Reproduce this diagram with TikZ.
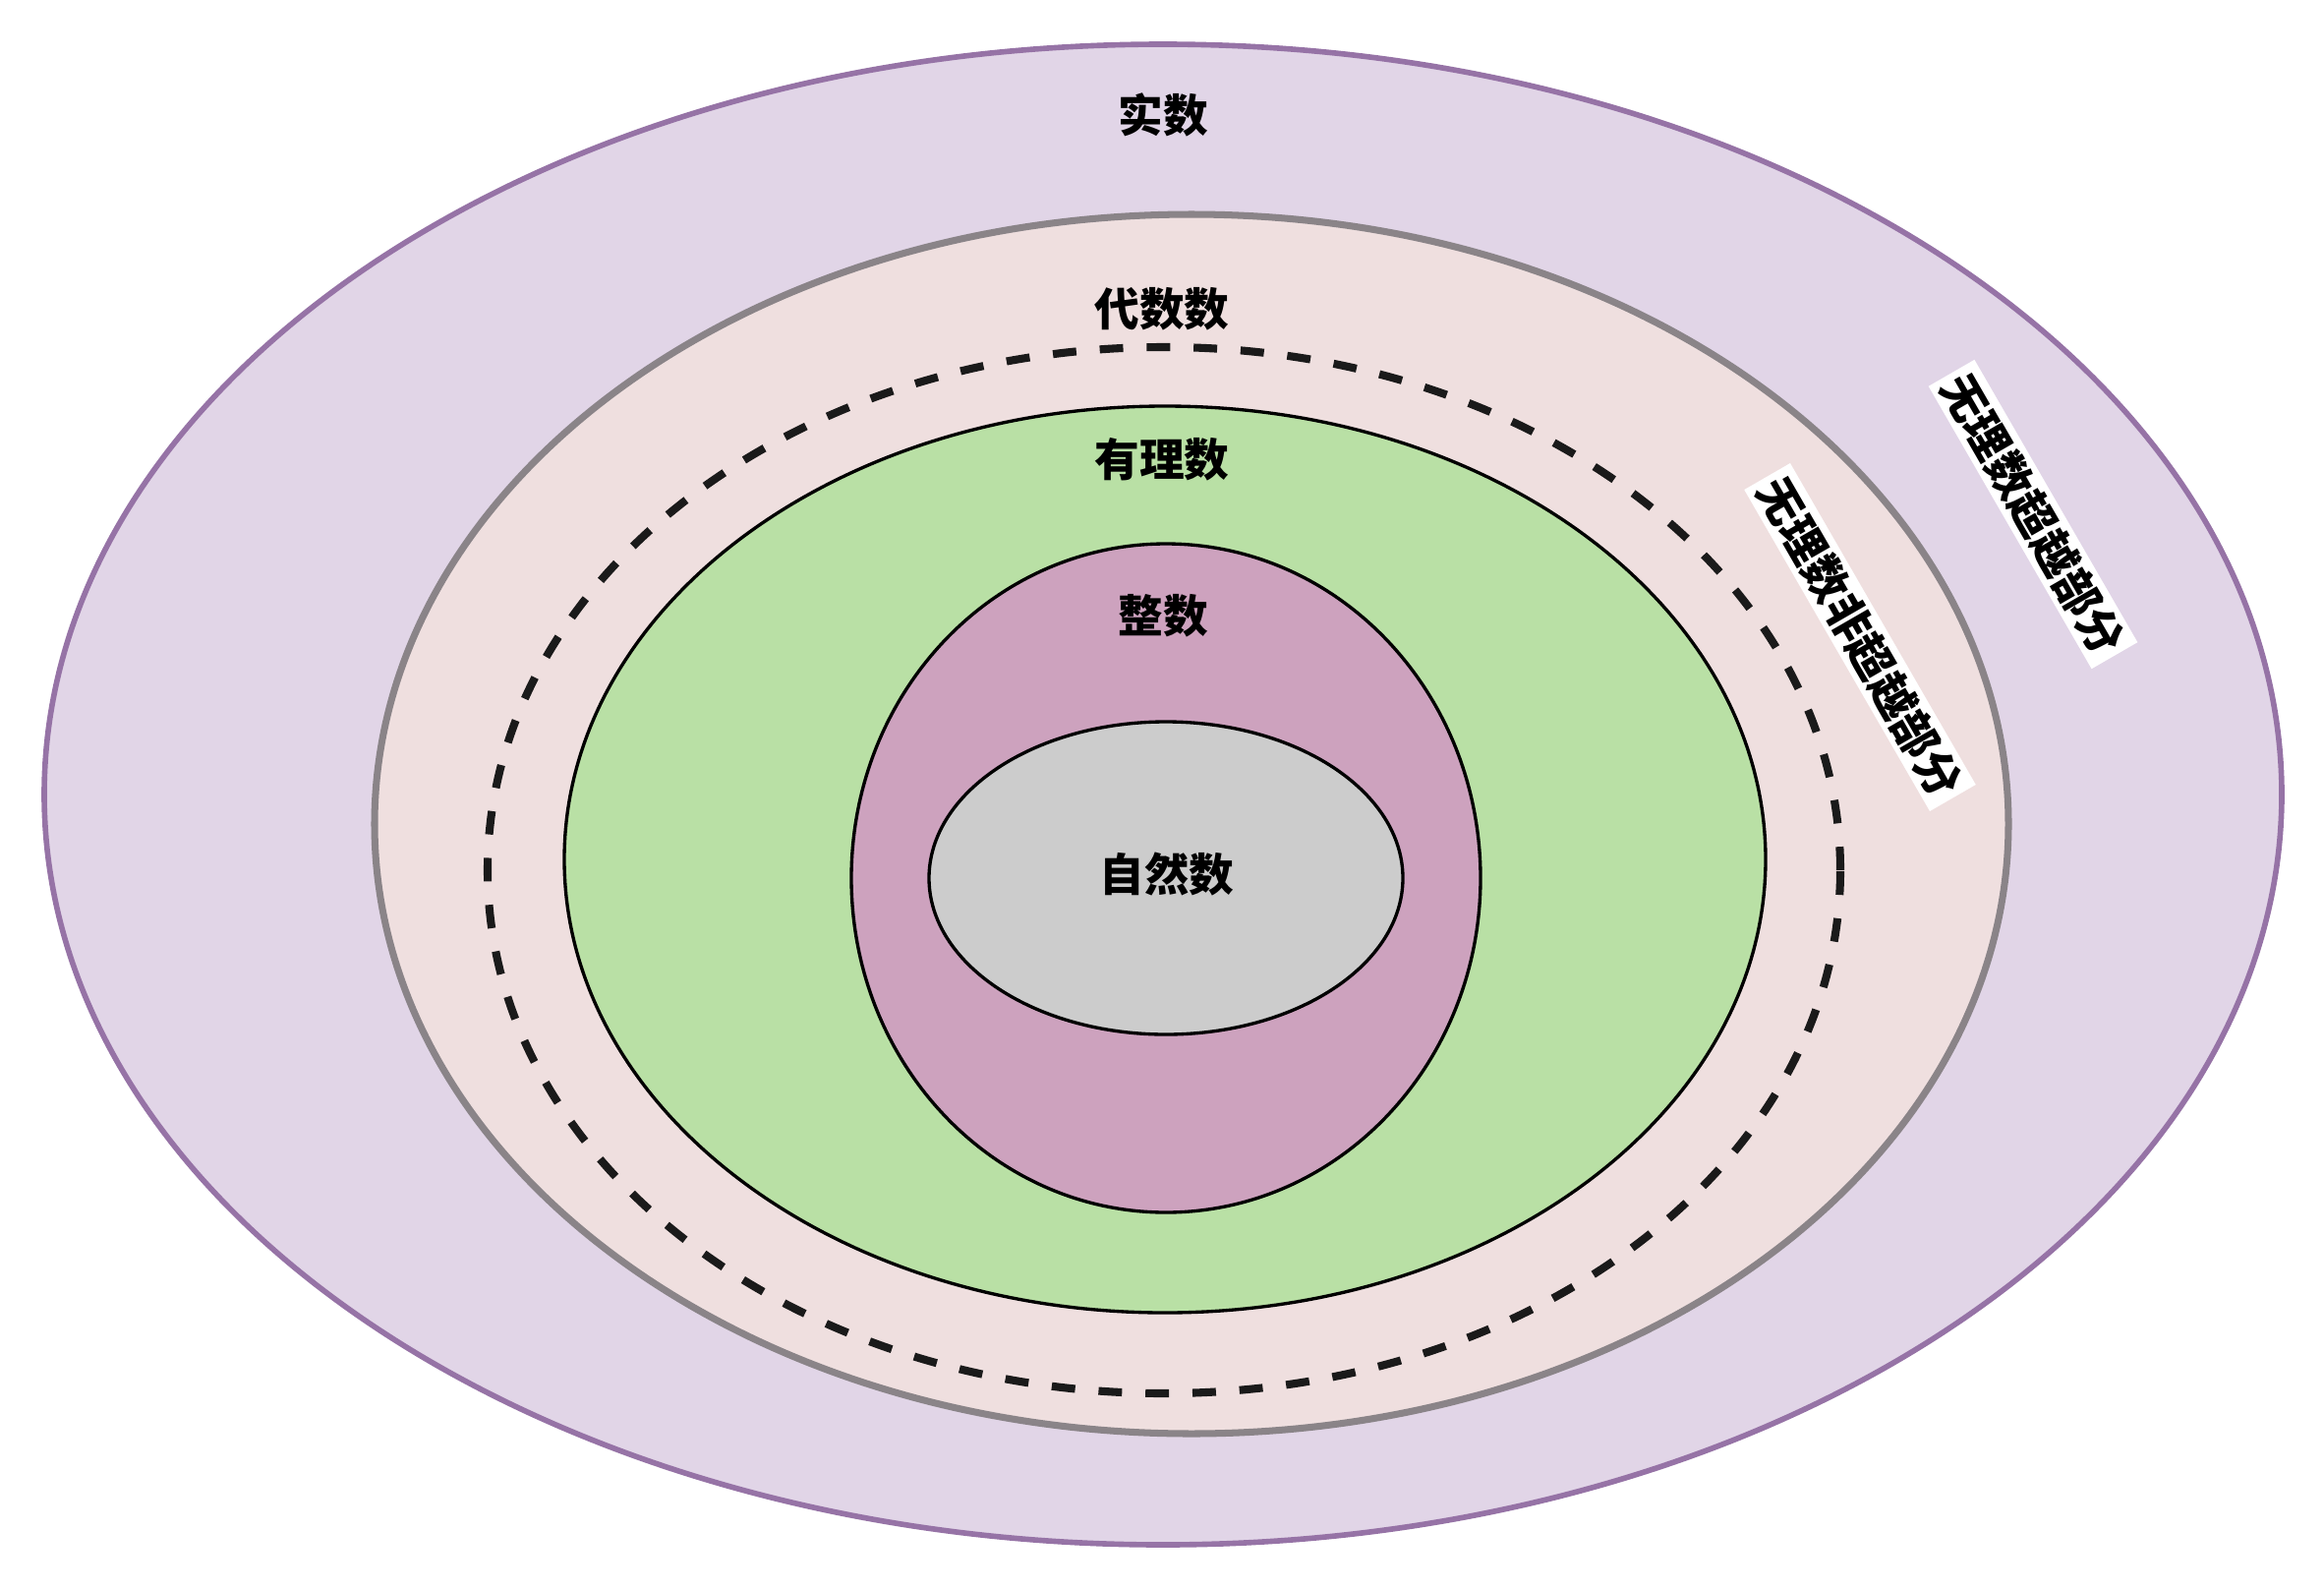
\documentclass[tikz,border=0pt]{standalone}
\usepackage{fontspec}
\newfontfamily\cjk{Noto Sans CJK SC}
\usepackage{tikz}
\definecolor{realfill}{HTML}{E1D5E7}
\definecolor{realline}{HTML}{9673A6}
\definecolor{algfill}{HTML}{EFDFDF}
\definecolor{algline}{HTML}{8A8488}
\definecolor{ratfill}{HTML}{B9E0A5}
\definecolor{intfill}{HTML}{CDA2BE}
\definecolor{natfill}{HTML}{CCCCCC}
\definecolor{dashline}{HTML}{1A1A1A}
\tikzset{
	setname/.style={font=\cjk\bfseries\fontsize{13}{15}\selectfont, inner sep=0pt},
	partname/.style={setname, fill=white, rotate=-60, inner xsep=0.06cm, minimum height=0.54cm},
	inner set/.style={draw=black, line width=0.95pt}
}

\begin{document}
\begin{tikzpicture}
		%%%%% START %%%%%
		\useasboundingbox (0, 0) rectangle (23.64, -16.16);
		
		\draw[fill=realfill, draw=realline, line width=1.6pt] (11.83, -8.08) ellipse [x radius=11.38, y radius=7.63];
		\draw[fill=algfill, draw=algline, line width=2pt] (12.12, -8.38) ellipse [x radius=8.31, y radius=6.20];
		\draw[dashline, line width=2.3pt, dash pattern=on 6.8pt off 6.8pt] (11.84, -8.85) ellipse [x radius=6.88, y radius=5.32];
		
		\draw[inner set, fill=ratfill] (11.85, -8.74) ellipse [x radius=6.11, y radius=4.61];
		\draw[inner set, fill=intfill] (11.86, -8.93) ellipse [x radius=3.20, y radius=3.40];
		\draw[inner set, fill=natfill] (11.86, -8.93) ellipse [x radius=2.41, y radius=1.59];
		
		\node[setname] (real) at (11.83, -1.17) {实数};
		\node[setname] (algebraic) at (11.82, -3.14) {代数数};
		\node[setname] (rational) at (11.82, -4.67) {有理数};
		\node[setname] (integer) at (11.83, -6.26) {整数};
		\node[setname] (natural) at (11.87, -8.89) {自然数};
		
		\node[partname] (transcendental) at (20.68, -5.23) {无理数超越部分};
		\node[partname] (nontranscendental) at (18.92, -6.48) {无理数非超越部分};
		%%%%% END %%%%%
	\end{tikzpicture}
\end{document}
